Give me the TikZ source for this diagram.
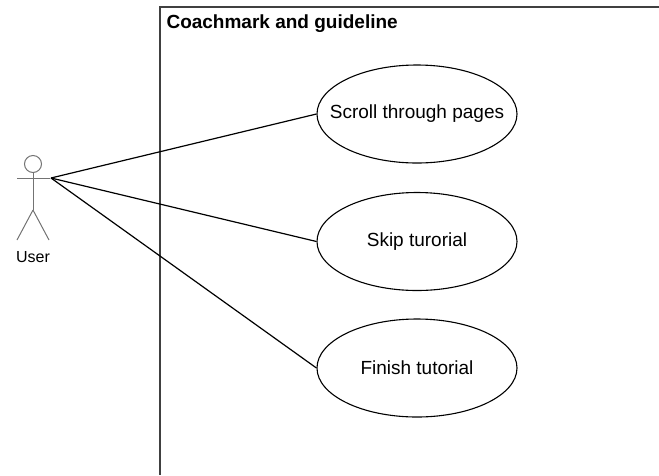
\documentclass[tikz,border=0pt]{standalone}
\usepackage{fontspec}
\setmainfont{Liberation Sans}
\usetikzlibrary{shapes.geometric}
\begin{document}
\begin{tikzpicture}[x=1pt,y=-1pt,
  usecase/.style={ellipse,draw=black,line width=1.1pt,minimum width=200pt,minimum height=98pt,inner sep=0pt,
    label={[font=\fontsize{19}{22}\selectfont]center:#1}},
  actorline/.style={draw=black!55,line width=1pt},
  assoc/.style={draw=black,line width=1.2pt},
  frame/.style={draw=black!75,line width=1.4pt}]
\useasboundingbox (0,0) rectangle (659,475);
% system boundary
\draw[frame] (659,7) -- (160,7) -- (160,475);
\node[anchor=base west,font=\bfseries\fontsize{19}{22}\selectfont] (title) at (163,28) {Coachmark and guideline};
% actor
\draw[actorline] (33,164) circle (8.5);
\draw[actorline] (33,172.5) -- (33,210);
\draw[actorline] (17,178) -- (50,178);
\draw[actorline] (33,210) -- (17,240);
\draw[actorline] (33,210) -- (49,240);
\coordinate (user) at (51,178);
\node[font=\fontsize{16}{18}\selectfont] (userlabel) at (33,257) {User};
% use cases
\node[usecase={Scroll through pages}] (scroll) at (417,114) {};
\node[usecase={Skip turorial}] (skip) at (417,241.5) {};
\node[usecase={Finish tutorial}] (finish) at (417,368) {};
% associations
\draw[assoc] (user) -- (scroll.west);
\draw[assoc] (user) -- (skip.west);
\draw[assoc] (user) -- (finish.west);
\end{tikzpicture}
\end{document}
